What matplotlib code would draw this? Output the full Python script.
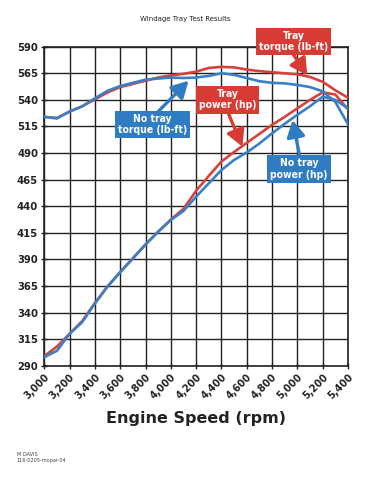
import matplotlib

matplotlib.use("Agg")
import matplotlib.pyplot as plt
from matplotlib.ticker import FixedLocator

# engine speed grid (rpm) and dyno readings
rpm = [3000, 3100, 3200, 3300, 3400, 3500, 3600, 3700, 3800, 3900, 4000, 4100, 4200,
       4300, 4400, 4500, 4600, 4700, 4800, 4900, 5000, 5100, 5200, 5300, 5400]

tray_torque = [524, 523, 529, 534, 540.5, 547, 552, 555, 558, 561, 563, 564.5, 566.5,
               570, 571, 570.5, 568.5, 567, 566, 565, 564, 561.5, 557, 549, 542]
notray_torque = [524, 522.5, 529, 534, 541.5, 548.5, 553, 556, 559, 560, 561, 560.5, 561,
                 562.5, 565, 563.5, 560.5, 557.5, 556, 555.5, 554, 552, 548, 538, 517]
tray_power = [299, 308, 320, 332, 349, 364.5, 378, 391, 404, 416, 427.5, 437.5, 454.5,
              468.5, 482, 491, 499.5, 508, 516.5, 524, 532, 540, 547, 545, 531]
notray_power = [298, 304, 320, 331, 348.5, 364.5, 378, 391, 404, 416, 427, 435.5, 449,
                461.5, 474, 483.5, 490.5, 499, 508.5, 517.5, 526, 534, 543, 540, 532]

x_ticks = [3000, 3200, 3400, 3600, 3800, 4000, 4200, 4400, 4600, 4800, 5000, 5200, 5400]
y_ticks = [290, 315, 340, 365, 390, 415, 440, 465, 490, 515, 540, 565, 590]

RED = "#d8413a"
BLUE = "#3a80c6"
BOX_RED = "#d63c33"
BOX_BLUE = "#2f7cc3"
INK = "#222222"

fig = plt.figure(figsize=(3.71, 4.95), dpi=100)
ax = fig.add_axes([0.1194, 0.2612, 0.8186, 0.6445])

ax.plot(rpm, tray_power, color=RED, lw=1.9, zorder=3)
ax.plot(rpm, notray_power, color=BLUE, lw=1.9, zorder=4)
ax.plot(rpm, tray_torque, color=RED, lw=1.9, zorder=3)
ax.plot(rpm, notray_torque, color=BLUE, lw=1.9, zorder=4)

ax.set_xlim(3000, 5400)
ax.set_ylim(290, 590)
ax.xaxis.set_major_locator(FixedLocator(x_ticks))
ax.yaxis.set_major_locator(FixedLocator(y_ticks))
ax.grid(True, color=INK, lw=1.0)
ax.set_axisbelow(True)
for s in ax.spines.values():
    s.set_linewidth(1.2)
    s.set_color(INK)
ax.tick_params(direction="inout", length=5, width=1.0, color=INK, pad=2)

ax.set_xticklabels([f"{v:,}" for v in x_ticks], rotation=45, ha="right",
                   rotation_mode="anchor", fontsize=7.8, fontweight="heavy",
                   fontstretch="condensed", color=INK)
ax.set_yticklabels([str(v) for v in y_ticks], fontsize=8, fontweight="heavy",
                   fontstretch="condensed", color=INK)
ax.set_xlabel("Engine Speed (rpm)", fontsize=11.5, fontweight="heavy",
              color=INK, labelpad=7)

fig.text(0.5, 0.962, "Windage Tray Test Results", ha="center", va="center",
         fontsize=5, color=INK)
fig.text(0.045, 0.075, "M DAVIS\n116-0205-mopar-04", ha="left", va="center",
         fontsize=3.6, color="#444444", linespacing=1.3)

# callout labels with arrows pointing at the curves
callouts = [
    ("No tray\ntorque (lb-ft)", BOX_BLUE, (3857, 517), (3900, 529), (4140, 558)),
    ("Tray\npower (hp)", BOX_RED, (4448, 540), (4452, 528), (4565, 496)),
    ("Tray\ntorque (lb-ft)", BOX_RED, (4969, 595), (4966, 583), (5078, 563)),
    ("No tray\npower (hp)", BOX_BLUE, (5013, 475), (5018, 487), (4962, 521)),
]
for text, col, center, tail, tip in callouts:
    ax.annotate("", xy=tip, xytext=tail, zorder=6, annotation_clip=False,
                arrowprops=dict(arrowstyle="-|>,head_length=1.0,head_width=0.55",
                                color=col, lw=2.4, shrinkA=0, shrinkB=0))
    ax.text(center[0], center[1], text, ha="center", va="center", color="white",
            fontsize=7.5, fontweight="bold", fontstretch="condensed",
            linespacing=1.15, zorder=7, clip_on=False,
            bbox=dict(boxstyle="square,pad=0.3", fc=col, ec="none"))

fig.savefig("out.png", dpi=100, facecolor="white")
